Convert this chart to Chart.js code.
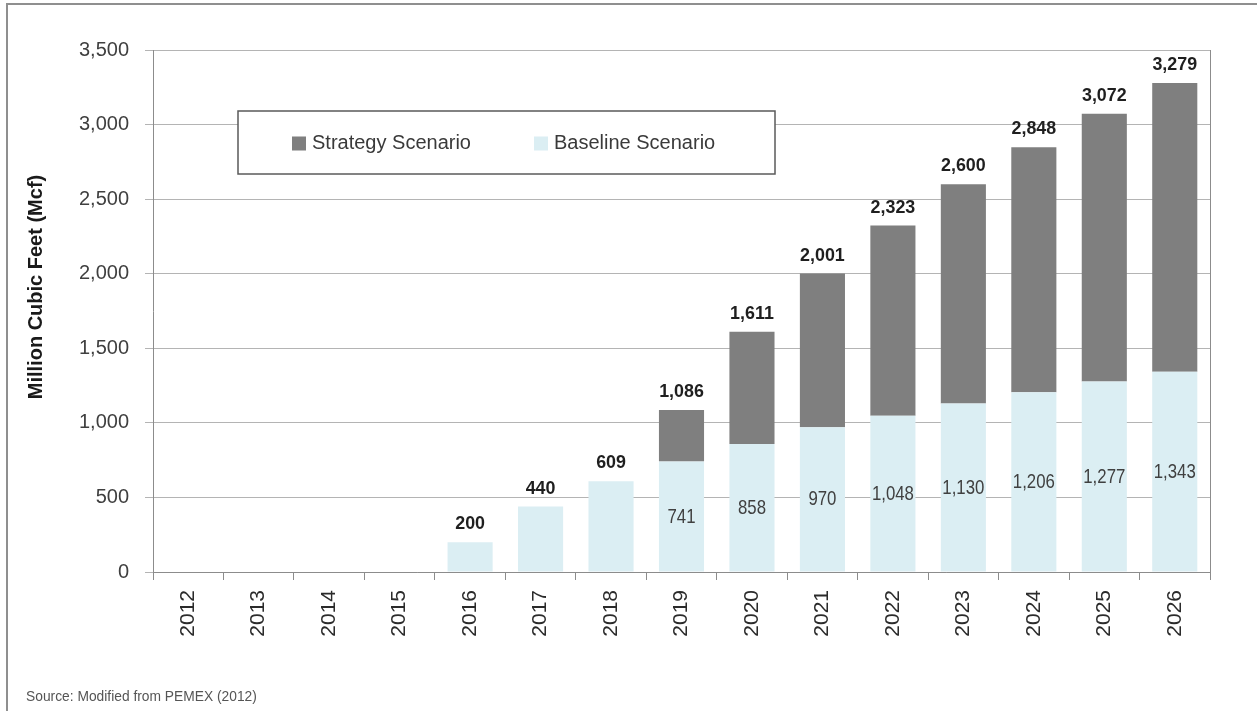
<!DOCTYPE html>
<html>
<head>
<meta charset="utf-8">
<title>Million Cubic Feet by scenario</title>
<script src="https://cdn.jsdelivr.net/npm/chart.js@4.4.1/dist/chart.umd.min.js"></script>
<style>
  html, body { margin: 0; padding: 0; background: #fff; }
  #wrap { position: relative; width: 1257px; height: 711px; }
  canvas { display: block; }
</style>
</head>
<body>
<div id="wrap"><canvas id="chart" width="1257" height="711"></canvas></div>
<script>
const years = ['2012', '2013', '2014', '2015', '2016', '2017', '2018', '2019', '2020', '2021', '2022', '2023', '2024', '2025', '2026']
const baseline = [null, null, null, null, 200, 440, 609, 741, 858, 970, 1048, 1130, 1206, 1277, 1343]
const totals = [null, null, null, null, 200, 440, 609, 1086, 1611, 2001, 2323, 2600, 2848, 3072, 3279]
// strategy part is the gap between the total and the baseline
const strategy = totals.map((t, i) => (t == null ? null : t - baseline[i]))
const yTicks = [0, 500, 1000, 1500, 2000, 2500, 3000, 3500]
const seriesNames = { baseline: 'Baseline Scenario', strategy: 'Strategy Scenario' }
const yTitle = 'Million Cubic Feet (Mcf)'
const sourceNote = 'Source: Modified from PEMEX (2012)'

const COLORS = {
  baseline: '#dbeef3',
  strategy: '#7f7f7f',
  grid: '#b4b4b4',
  axis: '#8c8c8c',
  tick: '#3f3f3f',
}
const SANS = '"Liberation Sans", Arial, sans-serif'

const fmt = (v) => Number(v).toLocaleString('en-US')

// squeezed text, the labels inside the bars use a narrow face
const narrowText = (ctx, text, x, y, squeeze) => {
  ctx.save()
  ctx.translate(x, y)
  ctx.scale(squeeze, 1)
  ctx.fillText(text, 0, 0)
  ctx.restore()
}

// page frame, plot border, axis title and source line
const framePlugin = {
  id: 'frame',
  beforeDraw(chart) {
    const { ctx, width, height } = chart
    ctx.save()
    ctx.fillStyle = '#fff'
    ctx.fillRect(0, 0, width, height)
    ctx.strokeStyle = '#8f8f8f'
    ctx.lineWidth = 2
    ctx.beginPath()
    ctx.moveTo(7, height)
    ctx.lineTo(7, 4)
    ctx.lineTo(width, 4)
    ctx.stroke()
    ctx.restore()
  },
  afterDraw(chart) {
    const { ctx, chartArea } = chart
    ctx.save()
    ctx.strokeStyle = COLORS.axis
    ctx.lineWidth = 1
    ctx.beginPath()
    ctx.moveTo(Math.round(chartArea.right) + 0.5, chartArea.top)
    ctx.lineTo(Math.round(chartArea.right) + 0.5, chartArea.bottom)
    ctx.stroke()

    ctx.translate(36, (chartArea.top + chartArea.bottom) / 2 - 24)
    ctx.rotate(-Math.PI / 2)
    ctx.fillStyle = '#1a1a1a'
    ctx.font = `bold 20px ${SANS}`
    ctx.textAlign = 'center'
    ctx.textBaseline = 'middle'
    ctx.fillText(yTitle, 0, 0)
    ctx.restore()

    ctx.save()
    ctx.fillStyle = '#555'
    ctx.font = `15px ${SANS}`
    ctx.textAlign = 'left'
    ctx.textBaseline = 'middle'
    narrowText(ctx, sourceNote, 26, 697, 0.92)
    ctx.restore()
  },
}

// totals above each stack, baseline value inside the light part
const valueLabels = {
  id: 'valueLabels',
  afterDatasetsDraw(chart) {
    const { ctx } = chart
    const y = chart.scales.y
    const meta = chart.getDatasetMeta(0)
    ctx.save()
    ctx.textAlign = 'center'
    ctx.textBaseline = 'middle'
    meta.data.forEach((bar, i) => {
      if (totals[i] == null) return
      ctx.font = `bold 19px ${SANS}`
      ctx.fillStyle = '#1f1f1f'
      narrowText(ctx, fmt(totals[i]), bar.x, y.getPixelForValue(totals[i]) - 18, 0.94)
      if (strategy[i] > 0) {
        ctx.font = `21px ${SANS}`
        ctx.fillStyle = '#404040'
        narrowText(ctx, fmt(baseline[i]), bar.x, y.getPixelForValue(baseline[i] / 2), 0.8)
      }
    })
    ctx.restore()
  },
}

// boxed legend sitting over the upper left of the plot
const boxLegend = {
  id: 'boxLegend',
  afterDatasetsDraw(chart) {
    const { ctx } = chart
    const box = { x: 238, y: 111, w: 537, h: 63 }
    ctx.save()
    ctx.fillStyle = '#fff'
    ctx.fillRect(box.x, box.y, box.w, box.h)
    ctx.strokeStyle = '#5a5a5a'
    ctx.lineWidth = 1.5
    ctx.strokeRect(box.x, box.y, box.w, box.h)
    ctx.font = `20px ${SANS}`
    ctx.textBaseline = 'middle'
    ctx.textAlign = 'left'
    const cy = box.y + box.h / 2 + 1
    const items = [chart.data.datasets[1], chart.data.datasets[0]]
    const starts = [292, 534]
    items.forEach((ds, k) => {
      ctx.fillStyle = ds.backgroundColor
      ctx.fillRect(starts[k], cy - 7, 14, 14)
      ctx.fillStyle = '#3a3a3a'
      ctx.fillText(ds.label, starts[k] + 20, cy)
    })
    ctx.restore()
  },
}

const ctx = document.getElementById('chart').getContext('2d')
new Chart(ctx, {
  type: 'bar',
  data: {
    labels: years,
    datasets: [
      {
        label: seriesNames.baseline,
        data: baseline,
        backgroundColor: COLORS.baseline,
        stack: 'total',
      },
      {
        label: seriesNames.strategy,
        data: strategy,
        backgroundColor: COLORS.strategy,
        stack: 'total',
      },
    ],
  },
  options: {
    responsive: false,
    animation: false,
    devicePixelRatio: 1,
    layout: { padding: { left: 0, top: 50, right: 47, bottom: 0 } },
    datasets: {
      bar: { categoryPercentage: 1, barPercentage: 0.64, borderWidth: 0 },
    },
    plugins: {
      legend: { display: false },
      tooltip: { enabled: false },
    },
    scales: {
      x: {
        stacked: true,
        afterFit: (scale) => { scale.height = 139 },
        grid: {
          drawOnChartArea: false,
          drawTicks: true,
          tickLength: 8,
          color: COLORS.axis,
        },
        border: { color: COLORS.axis },
        ticks: {
          minRotation: 90,
          maxRotation: 90,
          padding: 10,
          color: '#2b2b2b',
          font: { family: SANS, size: 21 },
        },
      },
      y: {
        stacked: true,
        min: 0,
        max: 3500,
        afterFit: (scale) => { scale.width = 153 },
        afterBuildTicks: (scale) => { scale.ticks = yTicks.map((v) => ({ value: v })) },
        grid: {
          color: COLORS.grid,
          tickLength: 8,
        },
        border: { color: COLORS.axis },
        ticks: {
          padding: 16,
          color: COLORS.tick,
          font: { family: SANS, size: 20 },
          callback: (v) => fmt(v),
        },
      },
    },
  },
  plugins: [framePlugin, valueLabels, boxLegend],
})
</script>
</body>
</html>
